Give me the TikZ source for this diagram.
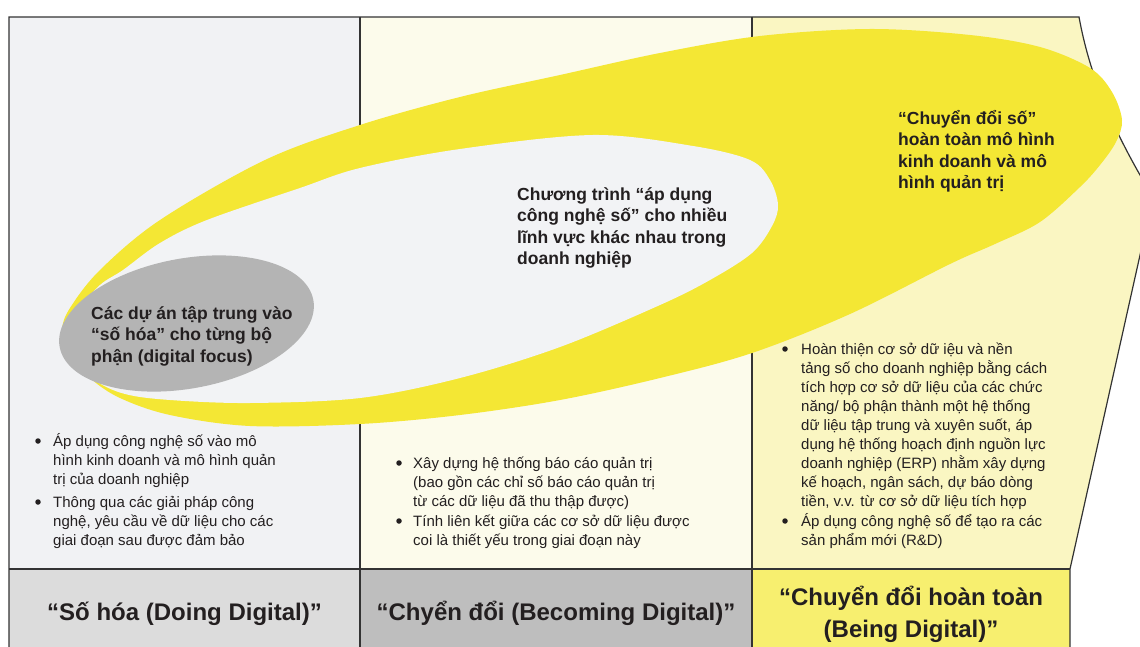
\documentclass[tikz,border=0pt]{standalone}
\usepackage{fontspec}
\setmainfont{Liberation Sans}
\definecolor{lcol}{HTML}{F1F2F4}
\definecolor{mcol}{HTML}{FCFBEB}
\definecolor{rcol}{HTML}{FAF6C2}
\definecolor{yel}{HTML}{F4E734}
\definecolor{inn}{HTML}{F2F3F5}
\definecolor{gell}{HTML}{B4B4B4}
\definecolor{bl}{HTML}{DCDCDC}
\definecolor{bm}{HTML}{BEBEBE}
\definecolor{br}{HTML}{F7EF6F}
\definecolor{txt}{HTML}{231F20}
\definecolor{lineC}{HTML}{333333}
\begin{document}
\begin{tikzpicture}[x=1pt,y=-1pt,
  cell/.style={draw=lineC, line width=1.2pt},
  body/.style={font=\fontsize{15}{19}\selectfont, text=txt, inner sep=0pt, align=left, anchor=base west},
  boldtxt/.style={font=\bfseries\fontsize{17.5}{21.5}\selectfont, text=txt, inner sep=0pt, align=left, anchor=base west},
  title/.style={font=\bfseries\fontsize{24}{32}\selectfont, text=txt, inner sep=0pt, align=center, anchor=base},
  dot/.style={circle, fill=txt, inner sep=0pt, minimum size=5.5pt}]
\useasboundingbox (0,0) rectangle (1140,647);
\clip (0,0) rectangle (1140,647);
% column backgrounds
\fill[lcol] (9,17) rectangle (360,569);
\fill[mcol] (360,17) rectangle (752,569);
\fill[rcol] (752,17) -- (1079,17) .. controls (1086,55) and (1100,105) .. (1140,175) -- (1170,220) -- (1145.6,230) -- (1070,569) -- (752,569) -- cycle;
\fill[bl] (9,569) rectangle (360,660);
\fill[bm] (360,569) rectangle (752,660);
\fill[br] (752,569) rectangle (1070,660);
% borders
\draw[cell] (9,660) -- (9,17) -- (1079,17) .. controls (1086,55) and (1100,105) .. (1140,175) -- (1160,210);
\draw[cell] (1145.6,230) -- (1070,569) -- (1070,660);
\draw[cell] (360,17) -- (360,660);
\draw[cell] (752,17) -- (752,660);
\draw[cell] (9,569) -- (1070,569);
% yellow swoosh
\fill[yel] plot[smooth cycle, tension=0.55] coordinates {
 (62,330) (70,308) (100,270) (160,220) (265,160) (360,125) (460,97) (560,75) (660,53) (760,36) (870,29) (970,35) (1040,47) (1090,68) (1112,92) (1122,120) (1116,142) (1100,165) (1080,187) (1040,222) (995,244) (950,264) (850,314) (752,353) (660,378) (560,400) (460,415) (360,424) (250,426) (170,415) (120,398) (90,378) (68,352)};
\fill[inn] plot[smooth cycle, tension=0.55] coordinates {
 (68,332) (76,312) (100,285) (123,270) (160,243) (207,220) (300,188) (360,168) (460,149) (593,135) (693,146) (750,160) (770,180) (778,205) (772,226) (752,253) (710,280) (660,305) (560,347) (460,378) (360,398) (250,403) (170,400) (125,394) (95,380) (74,354)};
\fill[gell, rotate around={10.5:(186.5,323.5)}] (186.5,323.5) ellipse [x radius=129, y radius=65];
% ellipse texts (anchored at the baseline of the last line)
\node[boldtxt] (e1) at (91,362) {Các dự án tập trung vào\\“số hóa” cho từng bộ\\phận (digital focus)};
\node[boldtxt] (e2) at (517,264.5) {Chương trình “áp dụng\\công nghệ số” cho nhiều\\lĩnh vực khác nhau trong\\doanh nghiệp};
\node[boldtxt] (e3) at (898,189) {“Chuyển đổi số”\\hoàn toàn mô hình\\kinh doanh và mô\\hình quản trị};
% left bullets
\node[dot] (ld1) at (38,441) {};
\node[body] (lb1) at (53,484) {Áp dụng công nghệ số vào mô\\hình kinh doanh và mô hình quản\\trị của doanh nghiệp};
\node[dot] (ld2) at (38,502) {};
\node[body] (lb2) at (53,545) {Thông qua các giải pháp công\\nghệ, yêu cầu về dữ liệu cho các\\giai đoạn sau được đảm bảo};
% middle bullets
\node[dot] (md1) at (399,463) {};
\node[body] (mb1) at (413,506) {Xây dựng hệ thống báo cáo quản trị\\(bao gồn các chỉ số báo cáo quản trị\\từ các dữ liệu đã thu thập được)};
\node[dot] (md2) at (399,521) {};
\node[body] (mb2) at (413,545) {Tính liên kết giữa các cơ sở dữ liệu được\\coi là thiết yếu trong giai đoạn này};
% right bullets
\node[dot] (rd1) at (785,349) {};
\node[body] (rb1) at (801,506) {Hoàn thiện cơ sở dữ iệu và nền\\tảng số cho doanh nghiệp bằng cách\\tích hợp cơ sở dữ liệu của các chức\\năng/ bộ phận thành một hệ thống\\dữ liệu tập trung và xuyên suốt, áp\\dụng hệ thống hoạch định nguồn lực\\doanh nghiệp (ERP) nhằm xây dựng\\kế hoạch, ngân sách, dự báo dòng\\tiền, v.v. từ cơ sở dữ liệu tích hợp};
\node[dot] (rd2) at (785,521) {};
\node[body] (rb2) at (801,545) {Áp dụng công nghệ số để tạo ra các\\sản phẩm mới (R\&D)};
% titles
\node[title] (t1) at (184.5,620) {“Số hóa (Doing Digital)”};
\node[title] (t2) at (556,620) {“Chyển đổi (Becoming Digital)”};
\node[title] (t3) at (911,637) {“Chuyển đổi hoàn toàn\\(Being Digital)”};
\end{tikzpicture}
\end{document}
